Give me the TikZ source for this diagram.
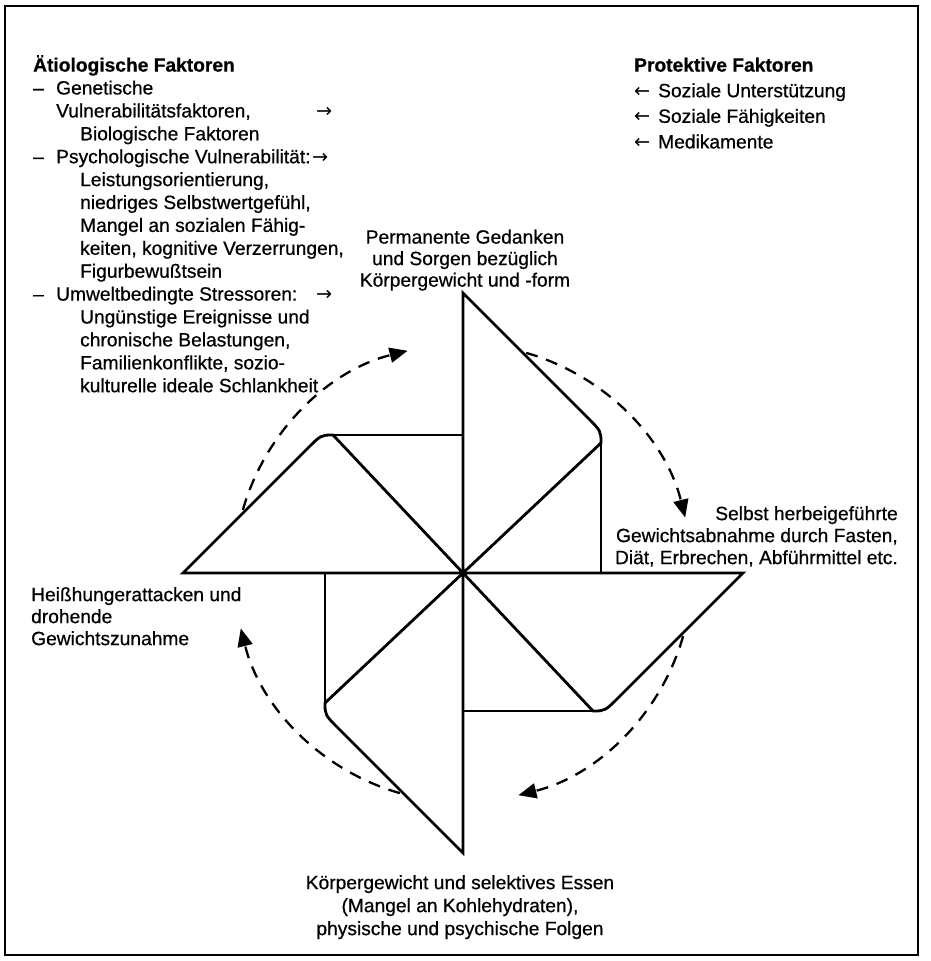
\documentclass[tikz,border=0pt]{standalone}
\usepackage{fontspec}
\setmainfont{Liberation Sans}[UprightFeatures={FakeBold=0.6}, BoldFeatures={FakeBold=0.6}]
\newfontfamily\pfeilfont{DejaVu Sans}
\usetikzlibrary{arrows.meta, calc}
\tikzset{
  blatt/.style={line width=2.8pt, line join=miter},
  kreispfeil/.style={line width=2.3pt, dash pattern=on 12pt off 9pt, -{Triangle[length=18pt,width=15pt]}},
  schrift/.style={inner sep=0pt, font=\fontsize{19.2}{#1}\selectfont},
  schrift/.default=22
}
\newcommand{\rechts}{{\pfeilfont →}}
\newcommand{\links}{{\pfeilfont ←}}
\begin{document}
\begin{tikzpicture}[x=1pt,y=1pt]
\useasboundingbox (-463,-388) rectangle (467,573);
\draw[line width=2.4pt] (-458,567) rectangle (455,-382);
\coordinate (mitte) at (0,0);
\foreach \w in {0,-90,-180,-270}{
  \begin{scope}[shift={(mitte)}, rotate=\w]
    \draw[blatt] (0,0) -- (0,280) -- (124,156) .. controls (138,142) .. (138,130) -- cycle;
    \draw[blatt] (138,130) -- (138,0);
  \end{scope}
}
\foreach \k in {0,90,180,270}
  \draw[kreispfeil] ($(mitte)+(74+\k:229)$) arc[start angle=74+\k, end angle=14+\k, radius=229];
\node[schrift=22.9, anchor=north west, align=left] (aetio) at (-430,518) {%
\textbf{Ätiologische Faktoren}\\
\makebox[23pt][l]{–}Genetische\\
\hspace*{23pt}\makebox[260pt][l]{Vulnerabilitätsfaktoren,}\rechts\\
\hspace*{47pt}Biologische Faktoren\\
\makebox[23pt][l]{–}\makebox[256pt][l]{Psychologische Vulnerabilität:}\rechts\\
\hspace*{47pt}Leistungsorientierung,\\
\hspace*{47pt}niedriges Selbstwertgefühl,\\
\hspace*{47pt}Mangel an sozialen Fähig-\\
\hspace*{47pt}keiten, kognitive Verzerrungen,\\
\hspace*{47pt}Figurbewußtsein\\
\makebox[23pt][l]{–}\makebox[260pt][l]{Umweltbedingte Stressoren:}\rechts\\
\hspace*{47pt}Ungünstige Ereignisse und\\
\hspace*{47pt}chronische Belastungen,\\
\hspace*{47pt}Familienkonflikte, sozio-\\
\hspace*{47pt}kulturelle ideale Schlankheit};
\node[schrift=25.6, anchor=north west, align=left] (protekt) at (171,515.5) {%
\textbf{Protektive Faktoren}\\
\makebox[24pt][l]{\links}Soziale Unterstützung\\
\makebox[24pt][l]{\links}Soziale Fähigkeiten\\
\makebox[24pt][l]{\links}Medikamente};
\node[schrift=21.5, anchor=north, align=center] (gedanken) at (2,343.5)
  {Permanente Gedanken\\und Sorgen bezüglich\\Körpergewicht und -form};
\node[schrift, anchor=north east, align=right] (abnahme) at (435,67)
  {Selbst herbeigeführte\\Gewichtsabnahme durch Fasten,\\Diät, Erbrechen, Abführmittel etc.};
\node[schrift, anchor=north west, align=left] (heisshunger) at (-432,-14)
  {Heißhungerattacken und\\drohende\\Gewichtszunahme};
\node[schrift=23, anchor=north, align=center] (essen) at (-3,-302)
  {Körpergewicht und selektives Essen\\(Mangel an Kohlehydraten),\\physische und psychische Folgen};
\end{tikzpicture}
\end{document}
